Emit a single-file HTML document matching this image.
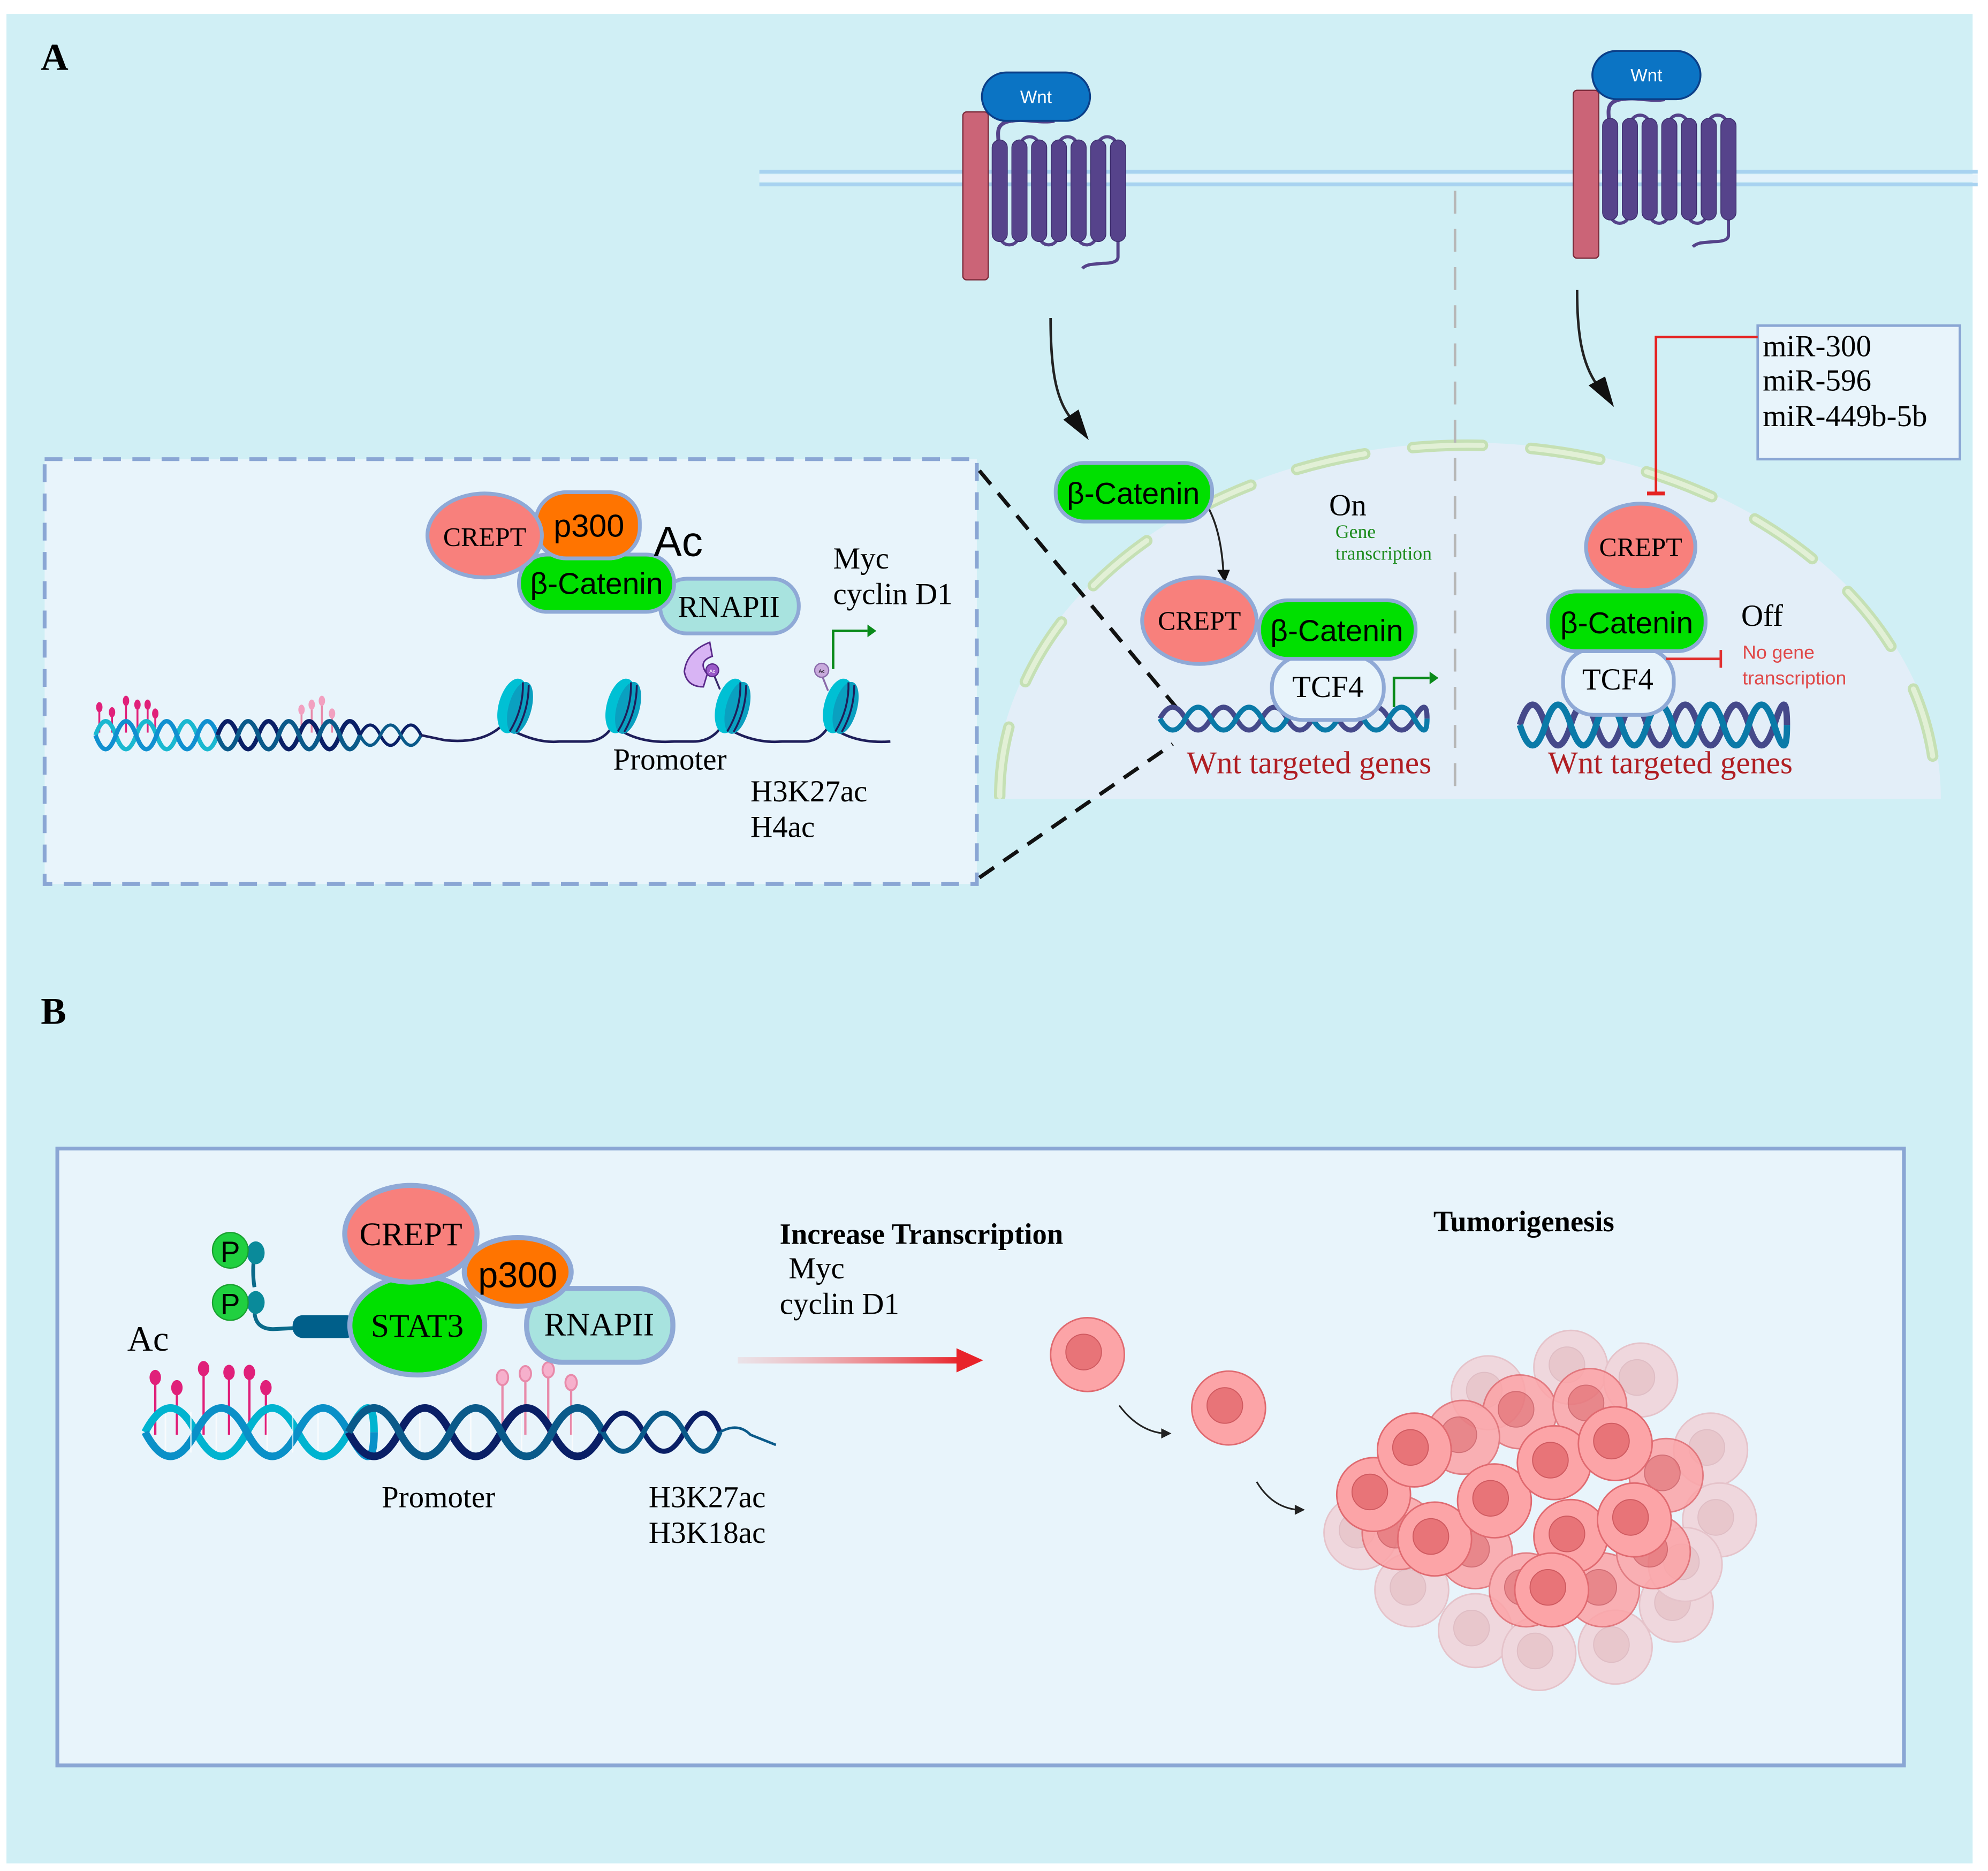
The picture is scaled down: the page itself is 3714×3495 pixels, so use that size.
<!DOCTYPE html>
<html><head><meta charset="utf-8"><style>html,body{margin:0;padding:0;background:#fff}svg{display:block}</style></head>
<body>
<svg width="3714" height="3495" viewBox="0 0 1563 1471" xmlns="http://www.w3.org/2000/svg" font-family="'Liberation Serif', serif">
<defs>
<g id="rec">
  <path d="M38 38 C25 40 28 48 28 55 L28 60" fill="none" stroke="#55438a" stroke-width="3"/>
  <path d="M38 38 C50 36 60 40 72 38" fill="none" stroke="#55438a" stroke-width="3"/>
  <g fill="none" stroke="#55438a" stroke-width="2.5">
    <path d="M29 128 a7 7 0 0 0 15 0"/><path d="M60 128 a7 7 0 0 0 15 0"/><path d="M90 128 a7 7 0 0 0 15 0"/>
    <path d="M45 58 a7 7 0 0 1 15 0"/><path d="M75 58 a7 7 0 0 1 15 0"/><path d="M106 58 a7 7 0 0 1 15 0"/>
    <path d="M122 130 L122 145 Q122 150 110 150 L100 151 Q96 152 94 154"/>
  </g>
  <g fill="#56438b" stroke="#3b2c6b" stroke-width="0.6">
    <rect x="23" y="53" width="12" height="80" rx="6"/><rect x="38.5" y="53" width="12" height="80" rx="6"/>
    <rect x="54" y="53" width="12" height="80" rx="6"/><rect x="69.5" y="53" width="12" height="80" rx="6"/>
    <rect x="85" y="53" width="12" height="80" rx="6"/><rect x="100.5" y="53" width="12" height="80" rx="6"/>
    <rect x="116" y="53" width="12" height="80" rx="6"/>
  </g>
  <rect x="0" y="31" width="20" height="132" rx="3" fill="#cb6477" stroke="#7a2a3a" stroke-width="1"/>
  <rect x="15" y="0" width="85" height="38" rx="19" fill="#0b74c4" stroke="#0b3f88" stroke-width="1.5"/>
  <text x="57.5" y="24" font-family="'Liberation Sans',sans-serif" font-size="14" fill="#fff" text-anchor="middle">Wnt</text>
</g>
<g id="cell">
  <circle r="29" fill="#fca4a7" stroke="#e06a70" stroke-width="1.2"/>
  <circle cx="-3" cy="-2" r="14" fill="#e87478" stroke="#cf5a60" stroke-width="0.8"/>
</g>
<linearGradient id="rg" x1="0" x2="1" y1="0" y2="0"><stop offset="0" stop-color="#f4a0a0" stop-opacity="0.2"/><stop offset="1" stop-color="#e8232a"/></linearGradient>
</defs>

<rect x="5" y="11" width="1546" height="1454" fill="#d0eff5"/>

<!-- A label -->
<text x="32" y="55" font-size="30" font-weight="bold">A</text>

<!-- membrane -->
<line x1="597" y1="135" x2="1555" y2="135" stroke="#a8d2f0" stroke-width="3"/>
<line x1="597" y1="145" x2="1555" y2="145" stroke="#a8d2f0" stroke-width="3"/>
<line x1="597" y1="140" x2="1555" y2="140" stroke="#e4f3fb" stroke-width="6"/>

<use href="#rec" x="757" y="57"/>
<use href="#rec" x="1237" y="40"/>

<!-- nucleus -->
<path d="M782 628 A372 280 0 0 1 1526 628 Z" fill="#e3eef8"/>
<path d="M786 626 A368 276 0 0 1 1522 626" fill="none" stroke="#c5e0b4" stroke-width="9" stroke-dasharray="55 38" stroke-linecap="round"/>
<path d="M786 626 A368 276 0 0 1 1522 626" fill="none" stroke="#e2f0d6" stroke-width="4" stroke-dasharray="55 38" stroke-linecap="round"/>
<rect x="782" y="628" width="745" height="4" fill="#d0eff5"/>

<!-- vertical dashed -->
<line x1="1144" y1="150" x2="1144" y2="618" stroke="#b7b7b7" stroke-width="2" stroke-dasharray="18 12"/>

<!-- curved arrows -->
<path d="M826 250 C826 290 830 315 843 330" fill="none" stroke="#222" stroke-width="2"/>
<polygon points="836,330 856,346 848,322" fill="#111"/>
<path d="M1240 228 C1240 260 1243 285 1256 303" fill="none" stroke="#222" stroke-width="2"/>
<polygon points="1249,303 1269,320 1262,296" fill="#111"/>

<!-- miR box -->
<rect x="1382" y="256" width="159" height="105" fill="#e8f4fb" stroke="#8aa6d4" stroke-width="2"/>
<text font-size="24"><tspan x="1386" y="280">miR-300</tspan><tspan x="1386" y="307">miR-596</tspan><tspan x="1386" y="335">miR-449b-5b</tspan></text>
<polyline points="1382,265 1302,265 1302,388" fill="none" stroke="#e52222" stroke-width="2"/>
<line x1="1295" y1="388" x2="1309" y2="388" stroke="#e52222" stroke-width="3"/>

<!-- inset box -->
<rect x="35" y="361" width="733" height="334" fill="#e8f4fb" stroke="#8aa6d4" stroke-width="3" stroke-dasharray="14 9"/>
<line x1="770" y1="370" x2="928" y2="560" stroke="#111" stroke-width="3" stroke-dasharray="14 9"/>
<line x1="770" y1="690" x2="922" y2="585" stroke="#111" stroke-width="3" stroke-dasharray="14 9"/>

<!-- inset proteins -->
<rect x="519" y="455" width="109" height="43" rx="21" fill="#a8e3df" stroke="#8fa9d6" stroke-width="3"/>
<text x="573" y="485" font-size="24" text-anchor="middle">RNAPII</text>
<rect x="408" y="436" width="122" height="45" rx="22" fill="#00e000" stroke="#8fa9d6" stroke-width="3"/>
<text x="469" y="467" font-size="24" font-family="'Liberation Sans',sans-serif" text-anchor="middle">β-Catenin</text>
<rect x="421" y="387" width="82" height="52" rx="24" fill="#ff7400" stroke="#8fa9d6" stroke-width="3"/>
<text x="463" y="422" font-size="25" font-family="'Liberation Sans',sans-serif" text-anchor="middle">p300</text>
<ellipse cx="381" cy="421" rx="45" ry="33" fill="#f8807c" stroke="#8fa9d6" stroke-width="3"/>
<text x="381" y="429" font-size="21" text-anchor="middle">CREPT</text>
<text x="514" y="437" font-size="33" font-family="'Liberation Sans',sans-serif">Ac</text>
<text font-size="24"><tspan x="655" y="447">Myc</tspan><tspan x="655" y="475">cyclin D1</tspan></text>
<text x="482" y="605" font-size="24">Promoter</text>
<text font-size="24"><tspan x="590" y="630">H3K27ac</tspan><tspan x="590" y="658">H4ac</tspan></text>

<!-- inset DNA -->
<g stroke-width="1.5">
<line x1="78" y1="558" x2="78" y2="576" stroke="#e0207a"/><line x1="88" y1="562" x2="88" y2="576" stroke="#e0207a"/>
<line x1="99" y1="553" x2="99" y2="576" stroke="#e0207a"/><line x1="108" y1="556" x2="108" y2="576" stroke="#e0207a"/>
<line x1="116" y1="556" x2="116" y2="576" stroke="#e0207a"/><line x1="122" y1="563" x2="122" y2="576" stroke="#e0207a"/>
<line x1="237" y1="560" x2="237" y2="576" stroke="#e88aaa"/><line x1="245" y1="556" x2="245" y2="576" stroke="#e88aaa"/>
<line x1="253" y1="553" x2="253" y2="576" stroke="#e88aaa"/><line x1="261" y1="563" x2="261" y2="576" stroke="#e88aaa"/>
</g>
<g fill="#e0207a"><ellipse cx="78" cy="556" rx="2.5" ry="4"/><ellipse cx="88" cy="560" rx="2.5" ry="4"/><ellipse cx="99" cy="551" rx="2.5" ry="4"/><ellipse cx="108" cy="554" rx="2.5" ry="4"/><ellipse cx="116" cy="554" rx="2.5" ry="4"/><ellipse cx="122" cy="561" rx="2.5" ry="4"/></g>
<g fill="#f2a0c0"><ellipse cx="237" cy="558" rx="2.5" ry="4"/><ellipse cx="245" cy="554" rx="2.5" ry="4"/><ellipse cx="253" cy="551" rx="2.5" ry="4"/><ellipse cx="261" cy="561" rx="2.5" ry="4"/></g>
<g fill="none" stroke-width="3.5">
<path d="M75 578 Q83 556 91 578 T107 578 T123 578 T139 578 T155 578 T171 578" stroke="#1ab8d0"/>
<path d="M75 578 Q83 600 91 578 T107 578 T123 578 T139 578 T155 578 T171 578" stroke="#1090d0"/>
<path d="M171 578 Q179 556 187 578 T203 578 T219 578 T235 578 T251 578 T267 578 T283 578" stroke="#0a1f66"/>
<path d="M171 578 Q179 600 187 578 T203 578 T219 578 T235 578 T251 578 T267 578 T283 578" stroke="#0a5a8a"/>
<path d="M283 578 Q291 562 299 578 T315 578 T331 578" stroke="#0a1f66" stroke-width="2.5"/>
<path d="M283 578 Q291 594 299 578 T315 578 T331 578" stroke="#0a5a8a" stroke-width="2.5"/>
</g>
<path d="M331 578 L350 582 Q380 585 395 570 Q420 585 440 583 L460 583 Q475 583 482 570 Q500 585 530 583 L545 583 Q560 583 568 570 Q590 585 615 583 L632 583 Q645 583 652 570 Q670 585 700 583" fill="none" stroke="#1e1e5a" stroke-width="2"/>
<g>
 <g transform="translate(403,555) rotate(15)"><ellipse rx="11" ry="22" fill="#00c0d4"/><ellipse cx="6" rx="9" ry="21" fill="#0aa0c0"/><path d="M3 -20 Q9 0 3 20 M8 -19 Q13 0 8 19" stroke="#1e1e5a" stroke-width="1.5" fill="none"/></g>
 <g transform="translate(488,555) rotate(15)"><ellipse rx="11" ry="22" fill="#00c0d4"/><ellipse cx="6" rx="9" ry="21" fill="#0aa0c0"/><path d="M3 -20 Q9 0 3 20 M8 -19 Q13 0 8 19" stroke="#1e1e5a" stroke-width="1.5" fill="none"/></g>
 <g transform="translate(574,555) rotate(15)"><ellipse rx="11" ry="22" fill="#00c0d4"/><ellipse cx="6" rx="9" ry="21" fill="#0aa0c0"/><path d="M3 -20 Q9 0 3 20 M8 -19 Q13 0 8 19" stroke="#1e1e5a" stroke-width="1.5" fill="none"/></g>
 <g transform="translate(659,555) rotate(15)"><ellipse rx="11" ry="22" fill="#00c0d4"/><ellipse cx="6" rx="9" ry="21" fill="#0aa0c0"/><path d="M3 -20 Q9 0 3 20 M8 -19 Q13 0 8 19" stroke="#1e1e5a" stroke-width="1.5" fill="none"/></g>
</g>
<line x1="561" y1="530" x2="566" y2="542" stroke="#3a2a6a" stroke-width="1.5"/>
<path d="M558 505 Q540 512 538 528 Q540 540 553 540 L556 530 Q548 520 560 516 Z" fill="#d8b4f4" stroke="#5a2a8a" stroke-width="1.2"/>
<circle cx="560" cy="527" r="5" fill="#9a5ac8" stroke="#5a2a8a"/>
<text x="560" y="529" font-size="4" fill="#fff" text-anchor="middle" font-family="'Liberation Sans',sans-serif">Ac</text>
<line x1="647" y1="533" x2="651" y2="543" stroke="#8a6aaa" stroke-width="1.5"/>
<circle cx="646" cy="527" r="5.5" fill="#c8aadc" stroke="#8a6aaa"/>
<text x="646" y="529" font-size="4" text-anchor="middle" font-family="'Liberation Sans',sans-serif">Ac</text>
<polyline points="655,526 655,496 682,496" fill="none" stroke="#0a8a1a" stroke-width="2"/>
<polygon points="682,491 689,496 682,501" fill="#0a8a1a"/>

<!-- nucleus left -->
<path d="M944 390 Q960 410 962 452" fill="none" stroke="#222" stroke-width="1.5"/>
<polygon points="957,448 967,448 963,458" fill="#111"/>
<rect x="830" y="364" width="123" height="46" rx="22" fill="#00e000" stroke="#8fa9d6" stroke-width="3"/>
<text x="891" y="396" font-size="24" font-family="'Liberation Sans',sans-serif" text-anchor="middle">β-Catenin</text>
<text x="1045" y="405" font-size="24">On</text>
<text font-size="15" fill="#1a8a1a"><tspan x="1050" y="423">Gene</tspan><tspan x="1050" y="440">transcription</tspan></text>
<g fill="none" stroke-width="4">
<path d="M912 565 Q922 547 932 565 T952 565 T972 565 T992 565 T1012 565 T1032 565 T1052 565 T1072 565 T1092 565 T1112 565 T1122 565" stroke="#45498a"/>
<path d="M912 565 Q922 583 932 565 T952 565 T972 565 T992 565 T1012 565 T1032 565 T1052 565 T1072 565 T1092 565 T1112 565 T1122 565" stroke="#0a7aa8"/>
</g>
<rect x="1000" y="516" width="88" height="50" rx="24" fill="#e8f4fb" stroke="#8fa9d6" stroke-width="3"/>
<text x="1044" y="548" font-size="24" text-anchor="middle">TCF4</text>
<rect x="990" y="472" width="123" height="46" rx="22" fill="#00e000" stroke="#8fa9d6" stroke-width="3"/>
<text x="1051" y="504" font-size="24" font-family="'Liberation Sans',sans-serif" text-anchor="middle">β-Catenin</text>
<ellipse cx="943" cy="488" rx="45" ry="34" fill="#f8807c" stroke="#8fa9d6" stroke-width="3"/>
<text x="943" y="495" font-size="21" text-anchor="middle">CREPT</text>
<polyline points="1096,556 1096,533 1124,533" fill="none" stroke="#0a8a1a" stroke-width="2"/>
<polygon points="1124,528 1131,533 1124,538" fill="#0a8a1a"/>
<text x="933" y="608" font-size="25" fill="#b01e23">Wnt targeted genes</text>

<!-- nucleus right -->
<g fill="none" stroke-width="5">
<path d="M1195 570 Q1205 538 1215 570 T1235 570 T1255 570 T1275 570 T1295 570 T1315 570 T1335 570 T1355 570 T1375 570 T1395 570 T1405 570" stroke="#45498a"/>
<path d="M1195 570 Q1205 602 1215 570 T1235 570 T1255 570 T1275 570 T1295 570 T1315 570 T1335 570 T1355 570 T1375 570 T1395 570 T1405 570" stroke="#0a7aa8"/>
</g>
<rect x="1229" y="510" width="87" height="52" rx="24" fill="#e8f4fb" stroke="#8fa9d6" stroke-width="3"/>
<text x="1272" y="542" font-size="24" text-anchor="middle">TCF4</text>
<rect x="1217" y="465" width="124" height="47" rx="22" fill="#00e000" stroke="#8fa9d6" stroke-width="3"/>
<text x="1279" y="498" font-size="24" font-family="'Liberation Sans',sans-serif" text-anchor="middle">β-Catenin</text>
<ellipse cx="1290" cy="430" rx="43" ry="34" fill="#f8807c" stroke="#8fa9d6" stroke-width="3"/>
<text x="1290" y="437" font-size="21" text-anchor="middle">CREPT</text>
<text x="1369" y="492" font-size="24">Off</text>
<line x1="1310" y1="518" x2="1353" y2="518" stroke="#e03030" stroke-width="2"/>
<line x1="1353" y1="511" x2="1353" y2="525" stroke="#e03030" stroke-width="2"/>
<text font-size="15" fill="#e04848" font-family="'Liberation Sans',sans-serif"><tspan x="1370" y="518">No gene</tspan><tspan x="1370" y="538">transcription</tspan></text>
<text x="1217" y="608" font-size="25" fill="#b01e23">Wnt targeted genes</text>

<!-- B -->
<text x="32" y="805" font-size="30" font-weight="bold">B</text>
<rect x="45" y="903" width="1452" height="485" fill="#e8f4fb" stroke="#8aa6d4" stroke-width="3"/>

<!-- B DNA lollipops -->
<g stroke-width="1.8">
<line x1="122" y1="1085" x2="122" y2="1128" stroke="#e0207a"/><line x1="139" y1="1093" x2="139" y2="1128" stroke="#e0207a"/>
<line x1="160" y1="1078" x2="160" y2="1128" stroke="#e0207a"/><line x1="180" y1="1081" x2="180" y2="1128" stroke="#e0207a"/>
<line x1="196" y1="1081" x2="196" y2="1128" stroke="#e0207a"/><line x1="209" y1="1093" x2="209" y2="1128" stroke="#e0207a"/>
<line x1="395" y1="1085" x2="395" y2="1128" stroke="#e88aaa"/><line x1="413" y1="1082" x2="413" y2="1128" stroke="#e88aaa"/>
<line x1="431" y1="1079" x2="431" y2="1128" stroke="#e88aaa"/><line x1="449" y1="1089" x2="449" y2="1128" stroke="#e88aaa"/>
</g>
<g fill="#e0207a"><ellipse cx="122" cy="1083" rx="4.5" ry="6"/><ellipse cx="139" cy="1091" rx="4.5" ry="6"/><ellipse cx="160" cy="1076" rx="4.5" ry="6"/><ellipse cx="180" cy="1079" rx="4.5" ry="6"/><ellipse cx="196" cy="1079" rx="4.5" ry="6"/><ellipse cx="209" cy="1091" rx="4.5" ry="6"/></g>
<g fill="#f6b0cc" stroke="#e88aaa" stroke-width="1.5"><ellipse cx="395" cy="1083" rx="4.5" ry="6"/><ellipse cx="413" cy="1080" rx="4.5" ry="6"/><ellipse cx="431" cy="1077" rx="4.5" ry="6"/><ellipse cx="449" cy="1087" rx="4.5" ry="6"/></g>
<g fill="none" stroke-width="6">
<path d="M114 1126 Q134 1088 154 1126 T194 1126 T234 1126 T274 1126 T294 1126" stroke="#00b4d0"/>
<path d="M114 1126 Q134 1164 154 1126 T194 1126 T234 1126 T274 1126 T294 1126" stroke="#0a90c8"/>
<path d="M274 1126 Q294 1164 314 1126 T354 1126 T394 1126 T434 1126 T474 1126" stroke="#0a1f66"/>
<path d="M274 1126 Q294 1088 314 1126 T354 1126 T394 1126 T434 1126 T474 1126" stroke="#0a5a8a"/>
<path d="M474 1126 Q490 1096 506 1126 T538 1126 T566 1126" stroke="#0a1f66" stroke-width="4"/>
<path d="M474 1126 Q490 1156 506 1126 T538 1126 T566 1126" stroke="#0a5a8a" stroke-width="4"/>
<path d="M566 1126 Q580 1118 590 1128 Q600 1132 610 1136" stroke="#0a5a8a" stroke-width="2"/>
</g>
<g stroke="#fff" stroke-width="1.2" opacity="0.7">
<line x1="130" y1="1112" x2="130" y2="1140"/><line x1="150" y1="1110" x2="150" y2="1142"/><line x1="170" y1="1112" x2="170" y2="1140"/><line x1="210" y1="1112" x2="210" y2="1140"/><line x1="230" y1="1110" x2="230" y2="1142"/><line x1="250" y1="1112" x2="250" y2="1140"/><line x1="330" y1="1112" x2="330" y2="1140"/><line x1="370" y1="1112" x2="370" y2="1140"/><line x1="410" y1="1112" x2="410" y2="1140"/><line x1="450" y1="1112" x2="450" y2="1140"/>
</g>

<!-- B proteins -->
<path d="M200 985 Q198 1000 200 1012 M200 1030 Q200 1045 215 1045 L235 1044" fill="none" stroke="#0a6a8a" stroke-width="3"/>
<rect x="230" y="1034" width="50" height="18" rx="8" fill="#005f8a"/>
<ellipse cx="201" cy="985" rx="7" ry="9" fill="#0a8a9a"/><ellipse cx="201" cy="1024" rx="7" ry="9" fill="#0a8a9a"/>
<circle cx="181" cy="983" r="14" fill="#20d040" stroke="#1aa030" stroke-width="1"/>
<circle cx="181" cy="1024" r="14" fill="#20d040" stroke="#1aa030" stroke-width="1"/>
<text x="181" y="992" font-size="23" font-family="'Liberation Sans',sans-serif" text-anchor="middle">P</text>
<text x="181" y="1033" font-size="23" font-family="'Liberation Sans',sans-serif" text-anchor="middle">P</text>
<rect x="414" y="1013" width="115" height="58" rx="28" fill="#a8e3df" stroke="#8fa9d6" stroke-width="4"/>
<text x="471" y="1050" font-size="26" text-anchor="middle">RNAPII</text>
<ellipse cx="328" cy="1042" rx="53" ry="39" fill="#00e000" stroke="#8fa9d6" stroke-width="4"/>
<text x="328" y="1051" font-size="26" text-anchor="middle">STAT3</text>
<ellipse cx="323" cy="970" rx="52" ry="38" fill="#f8807c" stroke="#8fa9d6" stroke-width="4"/>
<text x="323" y="979" font-size="26" text-anchor="middle">CREPT</text>
<ellipse cx="407" cy="1000" rx="42" ry="27" fill="#ff7400" stroke="#8fa9d6" stroke-width="4"/>
<text x="407" y="1012" font-size="28" font-family="'Liberation Sans',sans-serif" text-anchor="middle">p300</text>
<text x="100" y="1062" font-size="28">Ac</text>
<text x="300" y="1185" font-size="24">Promoter</text>
<text font-size="24"><tspan x="510" y="1185">H3K27ac</tspan><tspan x="510" y="1213">H3K18ac</tspan></text>

<text x="613" y="978" font-size="23" font-weight="bold">Increase Transcription</text>
<text font-size="24"><tspan x="620" y="1005">Myc</tspan><tspan x="613" y="1033">cyclin D1</tspan></text>
<rect x="580" y="1067" width="175" height="5" fill="url(#rg)"/>
<polygon points="752,1060 773,1069.5 752,1079" fill="#e8232a"/>
<text x="1127" y="968" font-size="23" font-weight="bold">Tumorigenesis</text>

<!-- cells -->
<use href="#cell" x="855" y="1065"/>
<use href="#cell" x="966" y="1107"/>
<path d="M880 1105 Q895 1125 915 1127" fill="none" stroke="#222" stroke-width="1.3"/><polygon points="913,1123 921,1127 913,1131" fill="#222"/>
<path d="M988 1165 Q1000 1185 1020 1187" fill="none" stroke="#222" stroke-width="1.3"/><polygon points="1018,1183 1026,1187 1018,1191" fill="#222"/>
<g opacity="0.35">
<use href="#cell" x="1235" y="1075"/><use href="#cell" x="1290" y="1085"/><use href="#cell" x="1170" y="1095"/>
<use href="#cell" x="1345" y="1140"/><use href="#cell" x="1352" y="1195"/><use href="#cell" x="1318" y="1262"/>
<use href="#cell" x="1160" y="1282"/><use href="#cell" x="1210" y="1300"/><use href="#cell" x="1270" y="1295"/>
<use href="#cell" x="1110" y="1250"/><use href="#cell" x="1070" y="1205"/><use href="#cell" x="1325" y="1230"/>
</g>
<g opacity="0.85">
<use href="#cell" x="1100" y="1205"/><use href="#cell" x="1160" y="1220"/><use href="#cell" x="1200" y="1250"/>
<use href="#cell" x="1260" y="1250"/><use href="#cell" x="1300" y="1220"/><use href="#cell" x="1310" y="1160"/>
<use href="#cell" x="1195" y="1110"/><use href="#cell" x="1250" y="1105"/><use href="#cell" x="1150" y="1130"/>
</g>
<use href="#cell" x="1080" y="1175"/><use href="#cell" x="1112" y="1140"/><use href="#cell" x="1128" y="1210"/>
<use href="#cell" x="1175" y="1180"/><use href="#cell" x="1222" y="1150"/><use href="#cell" x="1235" y="1208"/>
<use href="#cell" x="1270" y="1135"/><use href="#cell" x="1285" y="1195"/><use href="#cell" x="1220" y="1250"/>
</svg>
</body></html>
